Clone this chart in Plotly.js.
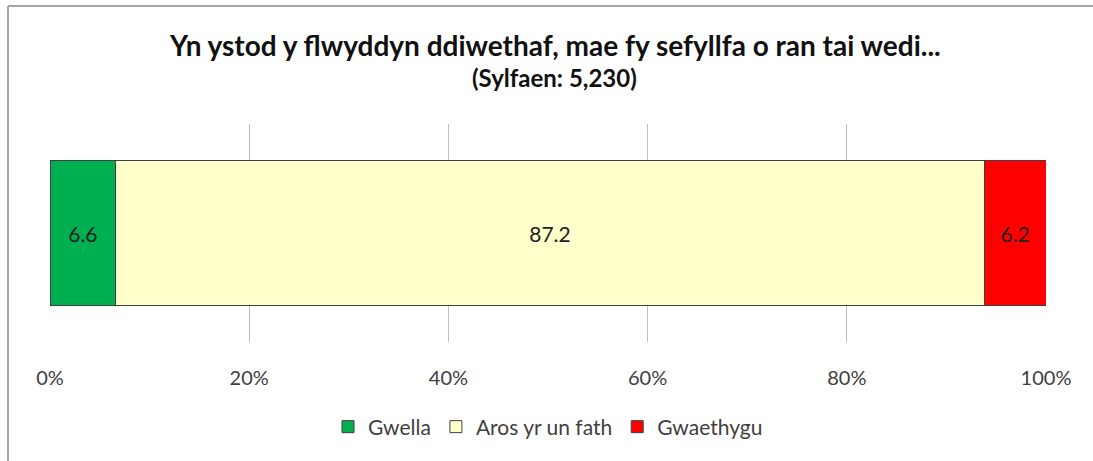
<!DOCTYPE html>
<html>
<head>
<meta charset="utf-8">
<script src="https://cdn.plot.ly/plotly-3.0.1.min.js"></script>
<style>html,body{margin:0;padding:0;background:#fff;}#chart{width:1093px;height:461px;}</style>
</head>
<body>
<div id="chart"></div>
<script>
const category = ["Sefyllfa"];
const seriesNames = ["Gwella", "Aros yr un fath", "Gwaethygu"];
const seriesValues = [[6.6], [87.2], [6.2]];
const seriesColors = ["#00B050", "#FFFFCC", "#FF0000"];
const tickValues = [0, 20, 40, 60, 80, 100];
const tickLabels = ["0%", "20%", "40%", "60%", "80%", "100%"];
const titleLine1 = "Yn ystod y flwyddyn ddiwethaf, mae fy sefyllfa o ran tai wedi...";
const titleLine2 = "(Sylfaen: 5,230)";

const traces = seriesNames.map((name, i) => ({
  type: "bar",
  orientation: "h",
  name: name,
  y: category,
  x: seriesValues[i],
  text: seriesValues[i].map(v => v.toFixed(1)),
  textposition: "inside",
  insidetextanchor: "middle",
  textfont: {family: "Lato, sans-serif", size: 21, color: "#222222"},
  marker: {color: seriesColors[i], line: {color: "#404040", width: 1}},
  width: 0.665,
  hoverinfo: "skip"
}));

const layout = {
  width: 1093, height: 461,
  margin: {l: 50, r: 47, t: 124, b: 119},
  paper_bgcolor: "#ffffff",
  plot_bgcolor: "#ffffff",
  barmode: "stack",
  font: {family: "Lato, sans-serif", color: "#404040"},
  xaxis: {
    range: [0, 100],
    tickvals: tickValues,
    ticktext: tickLabels,
    showgrid: true,
    gridcolor: "#BFBFBF",
    gridwidth: 1,
    zeroline: false,
    showline: false,
    ticks: "",
    ticklabelstandoff: 22,
    tickfont: {family: "Lato, sans-serif", size: 20, color: "#404040"},
    fixedrange: true
  },
  yaxis: {
    range: [-0.5, 0.5],
    showticklabels: false,
    showgrid: false,
    zeroline: false,
    ticks: "",
    fixedrange: true
  },
  showlegend: true,
  legend: {
    orientation: "h",
    x: 0.5, xanchor: "center",
    y: (342 - 427) / 218, yanchor: "middle",
    font: {family: "Lato, sans-serif", size: 21, color: "#404040"},
    traceorder: "normal"
  },
  annotations: [
    {text: "<b>" + titleLine1 + "</b>", xref: "paper", yref: "paper", x: (555 - 50) / 996, y: (342 - 45) / 218,
     xanchor: "center", yanchor: "middle", showarrow: false, font: {family: "Lato, sans-serif", size: 28, color: "#111111"}},
    {text: "<b>" + titleLine2 + "</b>", xref: "paper", yref: "paper", x: (554 - 50) / 996, y: (342 - 77) / 218,
     xanchor: "center", yanchor: "middle", showarrow: false, font: {family: "Lato, sans-serif", size: 24, color: "#111111"}}
  ],
  shapes: [
    {type: "line", xref: "paper", yref: "paper", x0: -42/996, x1: 1.1, y0: (342-6)/218, y1: (342-6)/218, line: {color: "#A6A6A6", width: 2}},
    {type: "line", xref: "paper", yref: "paper", x0: -42/996, x1: -42/996, y0: (342-6)/218, y1: (342-470)/218, line: {color: "#A6A6A6", width: 2}}
  ]
};

Plotly.newPlot("chart", traces, layout, {displayModeBar: false, staticPlot: true});
</script>
</body>
</html>
